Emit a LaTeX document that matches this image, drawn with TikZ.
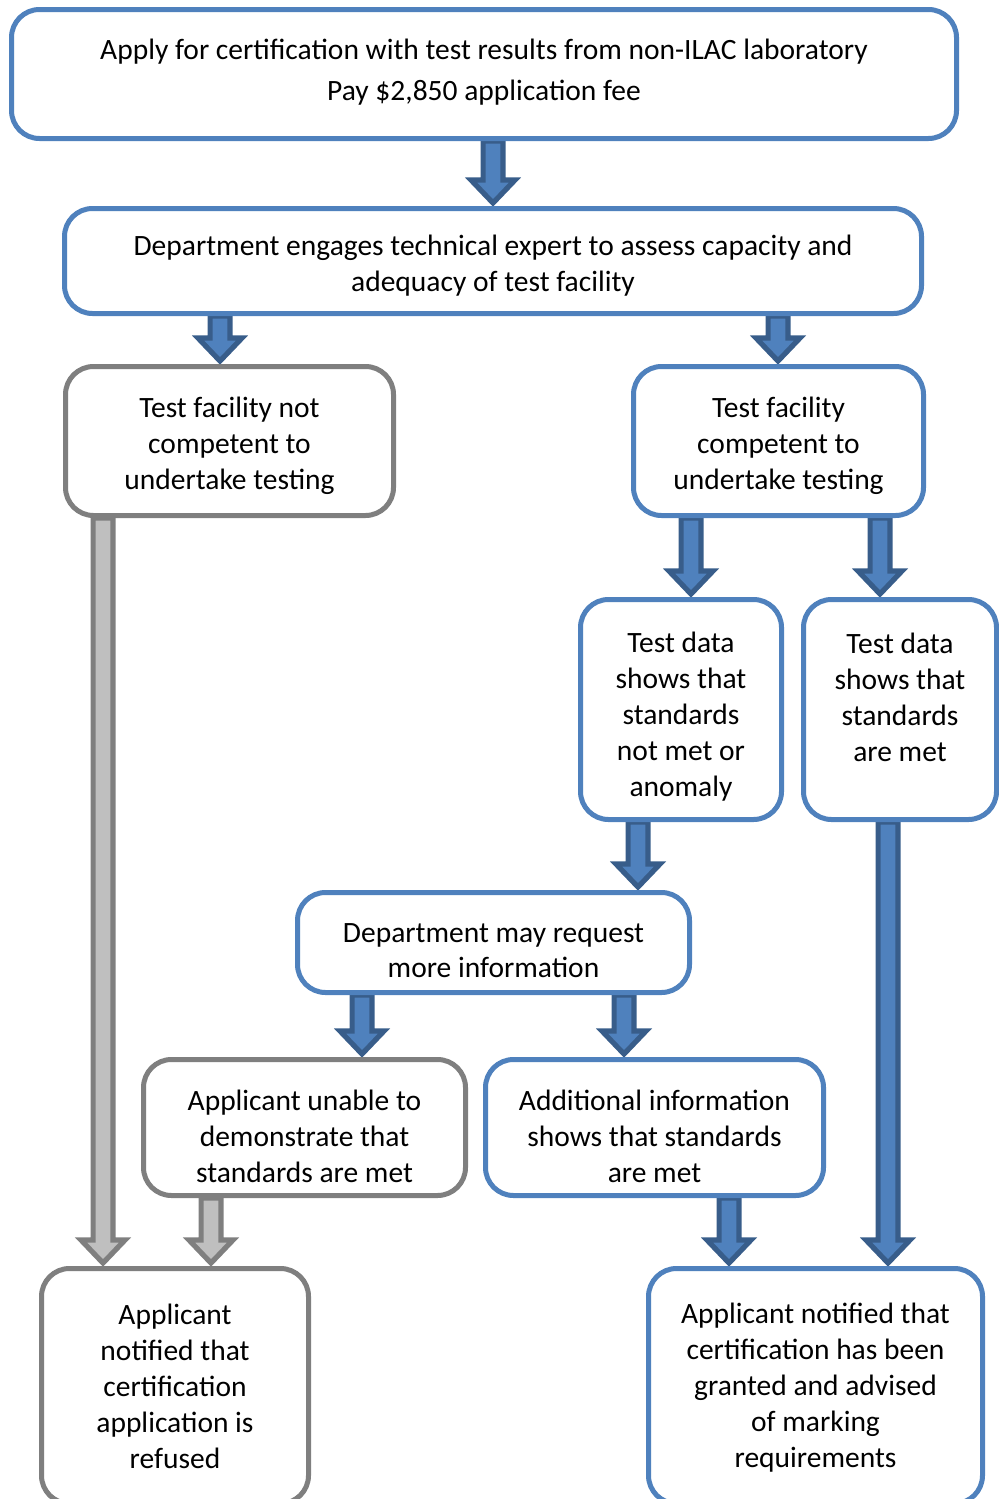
\documentclass[tikz,border=0pt]{standalone}
\usepackage{fontspec}
\setmainfont{Carlito}
\usetikzlibrary{calc,backgrounds}
\definecolor{bblue}{HTML}{4F81BD}
\definecolor{dblue}{HTML}{385D8A}
\definecolor{ggray}{HTML}{7F7F7F}
\definecolor{lgray}{HTML}{BFBFBF}
\tikzset{
  box/.style={rounded corners=14pt, draw=bblue, line width=2.5pt, fill=white, inner sep=0pt},
  gbox/.style={box, draw=ggray},
  txt/.style={align=center, inner sep=0pt, font=\fontsize{14.75}{18}\selectfont},
  barrow/.style={draw=dblue, fill=bblue, line width=2.6pt, line join=miter},
  garrow/.style={draw=ggray, fill=lgray, line width=2.6pt, line join=miter}
}
\newcommand\barrow[4]{%
  \coordinate (bx) at (#2,0);
  \path (#3.south -| bx) coordinate (bs) (#4.north -| bx) coordinate (be);
  \draw[#1] let \p1=(bs), \p2=(be) in
    (\x1-4.95pt,\y1) -- (\x1-4.95pt,\y2+13pt) -- (\x1-11pt,\y2+13pt) -- (\x1,\y2+1.5pt)
    -- (\x1+11pt,\y2+13pt) -- (\x1+4.95pt,\y2+13pt) -- (\x1+4.95pt,\y1) -- cycle;
}
\begin{document}
\begin{tikzpicture}[x=0.5pt,y=-0.5pt]
\useasboundingbox (0,0) rectangle (999,1499);
\clip (0,0) rectangle (999,1499);
% boxes
\node[box, minimum width=472.5pt, minimum height=64.5pt] (top) at (484,74) {};
\node[box, minimum width=428.5pt, minimum height=52.5pt] (dept) at (493,261) {};
\node[gbox, minimum width=164pt, minimum height=74.5pt] (tfnot) at (229.5,441) {};
\node[box, minimum width=145pt, minimum height=74.5pt] (tfc) at (778.5,441) {};
\node[box, minimum width=100.5pt, minimum height=110pt] (tdn) at (681,709.5) {};
\node[box, minimum width=96.5pt, minimum height=110pt] (tdm) at (900,709.5) {};
\node[box, minimum width=196pt, minimum height=50pt] (req) at (493.5,942.5) {};
\node[gbox, minimum width=161pt, minimum height=68pt] (unable) at (304.5,1127.5) {};
\node[box, minimum width=169pt, minimum height=68pt] (addl) at (654.5,1127.5) {};
\node[gbox, minimum width=133.5pt, minimum height=117.5pt] (refused) at (175,1386) {};
\node[box, minimum width=167pt, minimum height=117.5pt] (grant) at (815.5,1386) {};
% texts
\node[txt, font=\fontsize{14.75}{20.5}\selectfont] (topT) at ($(top.center)+(0,-2)$)
  {Apply for certification with test results from non-ILAC laboratory\\Pay \$2,850 application fee};
\node[txt] (deptT) at ($(dept.center)+(0,5)$)
  {Department engages technical expert to assess capacity and\\adequacy of test facility};
\node[txt] (tfnotT) at ($(tfnot.center)+(0,5)$)
  {Test facility not\\competent to\\undertake testing};
\node[txt] (tfcT) at ($(tfc.center)+(0,5)$)
  {Test facility\\competent to\\undertake testing};
\node[txt] (tdnT) at ($(tdn.center)+(0,7)$)
  {Test data\\shows that\\standards\\not met or\\anomaly};
\node[txt] (tdmT) at ($(tdm.center)+(0,-12)$)
  {Test data\\shows that\\standards\\are met};
\node[txt, font=\fontsize{14.75}{17.5}\selectfont] (reqT) at ($(req.center)+(0,8)$)
  {Department may request\\more information};
\node[txt] (unableT) at ($(unable.center)+(0,9)$)
  {Applicant unable to\\demonstrate that\\standards are met};
\node[txt] (addlT) at ($(addl.center)+(0,9)$)
  {Additional information\\shows that standards\\are met};
\node[txt] (refusedT) at ($(refused.center)+(0,0)$)
  {Applicant\\notified that\\certification\\application is\\refused};
\node[txt] (grantT) at ($(grant.center)+(0,2)$)
  {Applicant notified that\\certification has been\\granted and advised\\of marking\\requirements};
\begin{pgfonlayer}{background}
\barrow{barrow}{493}{top}{dept}
\barrow{barrow}{220}{dept}{tfnot}
\barrow{barrow}{778}{dept}{tfc}
\barrow{barrow}{691}{tfc}{tdn}
\barrow{barrow}{880}{tfc}{tdm}
\barrow{barrow}{638}{tdn}{req}
\barrow{barrow}{888}{tdm}{grant}
\barrow{barrow}{362}{req}{unable}
\barrow{barrow}{624}{req}{addl}
\barrow{garrow}{103}{tfnot}{refused}
\barrow{garrow}{211}{unable}{refused}
\barrow{barrow}{729}{addl}{grant}
\end{pgfonlayer}
\end{tikzpicture}
\end{document}
